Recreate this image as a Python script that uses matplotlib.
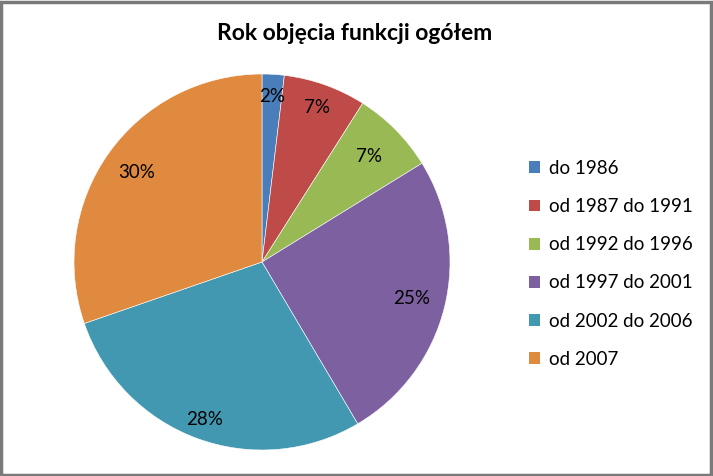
import matplotlib
matplotlib.use("Agg")
import matplotlib.pyplot as plt
from matplotlib.patches import Rectangle, Patch
import numpy as np

categories = ["do 1986", "od 1987 do 1991", "od 1992 do 1996",
              "od 1997 do 2001", "od 2002 do 2006", "od 2007"]
values = [1.9, 7.1, 7.2, 25.3, 28.2, 30.3]
colors = ["#4a7ebb", "#be4b48", "#98b954", "#7d60a0", "#4298b1", "#e08a3f"]
label_radius = [0.88, 0.87, 0.80, 0.82, 0.89, 0.82]
title = "Rok objęcia funkcji ogółem"

plt.rcParams['font.family'] = ['Lato', 'DejaVu Sans']

fig = plt.figure(figsize=(7.13, 4.76), dpi=100)
fig.patch.set_facecolor("white")

ax = fig.add_axes([74/713, 26/476, 376/713, 376/476])
wedges, texts, autotexts = ax.pie(
    values, colors=colors, startangle=90, counterclock=False,
    autopct=lambda p: f"{p:.0f}%", pctdistance=0.85,
    wedgeprops=dict(edgecolor="white", linewidth=0.4),
    textprops=dict(fontsize=13.5, color="black"))
for w, t, r in zip(wedges, autotexts, label_radius):
    ang = np.deg2rad((w.theta1 + w.theta2) / 2)
    t.set_position((r * np.cos(ang), r * np.sin(ang)))
ax.set_aspect("equal")
ax.set_xlim(-1, 1)
ax.set_ylim(-1, 1)

fig.text(355/713, 1 - 33/476, title, ha="center", va="center",
         fontsize=16.5, fontweight="bold")

handles = [Patch(facecolor=c, edgecolor="none") for c in colors]
leg = fig.legend(handles, categories, loc="upper left",
                 bbox_to_anchor=(512/713, 1 - 143/476), frameon=False,
                 fontsize=13.5, labelspacing=1.13, handlelength=0.6,
                 handleheight=0.6, handletextpad=0.45)

fig.add_artist(Rectangle((0.0015, 0.002), 0.995, 0.994, transform=fig.transFigure,
                         fill=False, edgecolor="#7a7a7a", linewidth=2.5))

fig.savefig("out.png", dpi=100)
